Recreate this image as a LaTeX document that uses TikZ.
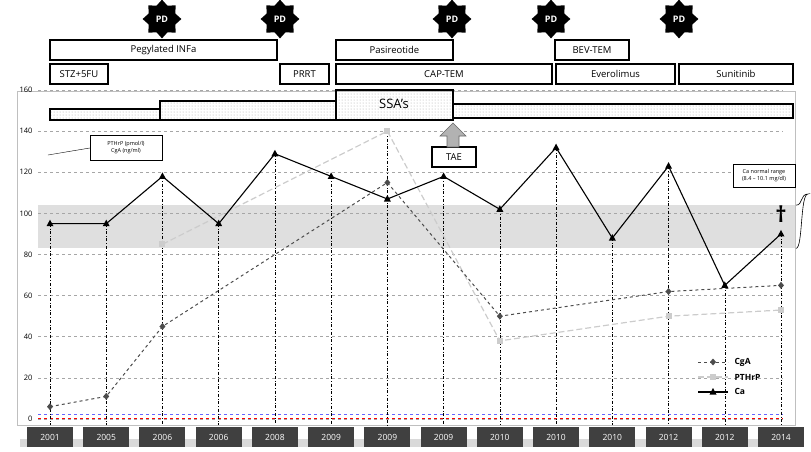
\documentclass[tikz,border=0pt]{standalone}
\usepackage{fontspec}
\setmainfont{Open Sans}
\usetikzlibrary{shapes.geometric,patterns,arrows.meta}
\begin{document}
\begin{tikzpicture}[x=1pt,y=-1pt,
  bar/.style={draw=black,line width=1.6pt,fill=white,font=\fontsize{9.5}{10}\selectfont},
  ssa/.style={draw=black,line width=1.4pt,pattern=dots,pattern color=gray!70},
  pd/.style={star,star points=8,star point ratio=1.35,fill=black,text=white,inner sep=4pt,minimum size=34pt,font=\bfseries\fontsize{9}{9}\selectfont},
  yr/.style={fill=black!75,text=white,minimum width=46pt,minimum height=20pt,inner sep=0pt,font=\fontsize{8.5}{9}\selectfont},
  grid/.style={gray!70,dashed,line width=0.7pt},
  vline/.style={black,dash dot,line width=0.5pt},
  small/.style={draw,fill=white,font=\fontsize{5.5}{7}\selectfont,align=center}]
\useasboundingbox (0,0) rectangle (811,451);
\draw[gray!50,line width=0.8pt] (17,91) rectangle (795,425);
\fill[gray!25] (38,{419-2.056*104}) rectangle (795,{419-2.056*83});
\foreach \v in {0,20,...,160}{
  \draw[grid] (38,{419-2.056*\v}) -- (783,{419-2.056*\v});
  \node[font=\fontsize{7.5}{8}\selectfont,anchor=east] at (36,{419-2.056*\v}) {\v};}
\draw[red,dashed,line width=0.8pt] (38,418) -- (783,418);
\draw[blue!60,dashed,line width=0.8pt] (38,414) -- (783,414);
\foreach \v [count=\i from 0] in {95,95,118,95,129,118,140,118,102,132,88,123,65,90}{\draw[vline] ({50+56.23*\i},{419-2.056*\v}) -- ({50+56.23*\i},425);}
\fill[gray!30] (20,439) rectangle (800,447);
\foreach \y [count=\i from 0] in {2001,2005,2006,2006,2008,2009,2009,2009,2010,2010,2010,2012,2012,2014}
  \node[yr] (y\i) at ({50+56.23*\i},437) {\y};
\draw[ssa] (50,109) rectangle (160,120);
\draw[ssa] (160,101) rectangle (336,120);
\draw[ssa] (453,104) rectangle (793,118);
\draw[ssa] (336,90) rectangle (453,120);
\node[font=\fontsize{13}{13}\selectfont] (ssa) at (394,104) {SSA’s};
\node[bar,minimum width=227pt,minimum height=20pt,inner sep=0pt] (peg) at (163.5,50) {Pegylated INFa};
\node[bar,minimum width=58pt,minimum height=20pt,inner sep=0pt] (stz) at (79,74) {STZ+5FU};
\node[bar,minimum width=49pt,minimum height=20pt,inner sep=0pt] (prrt) at (304.5,74) {PRRT};
\node[bar,minimum width=117pt,minimum height=20pt,inner sep=0pt] (pas) at (394.5,50) {Pasireotide};
\node[bar,minimum width=216pt,minimum height=20pt,inner sep=0pt] (cap) at (444,74) {CAP-TEM};
\node[bar,minimum width=74pt,minimum height=20pt,inner sep=0pt] (bev) at (592,50) {BEV-TEM};
\node[bar,minimum width=119pt,minimum height=20pt,inner sep=0pt] (eve) at (615.5,74) {Everolimus};
\node[bar,minimum width=114pt,minimum height=20pt,inner sep=0pt] (sun) at (736,74) {Sunitinib};
\foreach \x [count=\k] in {162,280,452,551,679} \node[pd] (pd\k) at (\x,19) {PD};
\node[bar,minimum width=44pt,minimum height=20pt,inner sep=0pt] (tae) at (454,157) {TAE};
\draw[draw=gray!80!black,fill=gray!60,line width=0.6pt] (447,147)--(447,136)--(440,136)--(453,123)--(466,136)--(459,136)--(459,147)--cycle;
\node[small,minimum width=72pt,minimum height=25pt] (unit) at (126,148) {PTHrP (pmol/l)\\CgA (ng/ml)};
\coordinate (ua) at (48,155);
\draw (ua) -- (unit.west);
\node[small,minimum width=62pt,minimum height=23pt] (ca) at (764,176) {Ca normal range\\(8.4 – 10.1 mg/dl)};
\draw[line width=0.6pt] (796,{419-2.056*104}) .. controls (803,{419-2.056*104}) and (800,194) .. (808,194) .. controls (800,194) and (803,{419-2.056*83}) .. (796,{419-2.056*83});
\node[font=\bfseries\fontsize{22}{22}\selectfont] (dag) at (781,214) {†};
\draw[gray!40,line width=1.2pt,dash pattern=on 6pt off 3pt] ({50+56.23*2},{419-2.056*85}) -- ({50+56.23*6},{419-2.056*140}) -- ({50+56.23*8},{419-2.056*38}) -- ({50+56.23*11},{419-2.056*50}) -- ({50+56.23*13},{419-2.056*53});
\foreach \i/\v in {2/85,6/140,8/38,11/50,13/53} \fill[gray!40] ({50+56.23*\i-3},{419-2.056*\v-3}) rectangle +(6,6);
\draw[gray!60!black,dashed,line width=1pt] ({50},{419-2.056*6}) -- ({50+56.23*1},{419-2.056*11}) -- ({50+56.23*2},{419-2.056*45}) -- ({50+56.23*6},{419-2.056*115}) -- ({50+56.23*8},{419-2.056*50}) -- ({50+56.23*11},{419-2.056*62}) -- ({50+56.23*13},{419-2.056*65});
\foreach \i/\v in {0/6,1/11,2/45,6/115,8/50,11/62,13/65} \fill[gray!60!black] ({50+56.23*\i},{419-2.056*\v}) +(0,-3.5) -- +(3,0) -- +(0,3.5) -- +(-3,0) -- cycle;
\draw[black,line width=1.1pt] \foreach \v [count=\i from 0] in {95,95,118,95,129,118,107,118,102,132,88,123,65,90}{ \ifnum\i=0 ({50},{419-2.056*\v}) \else -- ({50+56.23*\i},{419-2.056*\v}) \fi };
\foreach \v [count=\i from 0] in {95,95,118,95,129,118,107,118,102,132,88,123,65,90}
  \fill ({50+56.23*\i},{419-2.056*\v}) +(0,-4) -- +(3.5,2.5) -- +(-3.5,2.5) -- cycle;
\draw[gray!60!black,dashed,line width=1pt] (698,362) -- (728,362);
\fill[gray!60!black] (713,362) +(0,-3.5) -- +(3,0) -- +(0,3.5) -- +(-3,0) -- cycle;
\draw[gray!40,line width=1.2pt,dash pattern=on 6pt off 3pt] (698,377) -- (728,377);
\fill[gray!40] (710,374) rectangle +(6,6);
\draw[black,line width=1.1pt] (698,392) -- (728,392);
\fill (713,392) +(0,-4) -- +(3.5,2.5) -- +(-3.5,2.5) -- cycle;
\node[anchor=west,font=\bfseries\fontsize{8.5}{9}\selectfont] (l1) at (731,362) {CgA};
\node[anchor=west,font=\bfseries\fontsize{8.5}{9}\selectfont] (l2) at (731,377) {PTHrP};
\node[anchor=west,font=\bfseries\fontsize{8.5}{9}\selectfont] (l3) at (731,391) {Ca};
\end{tikzpicture}
\end{document}
